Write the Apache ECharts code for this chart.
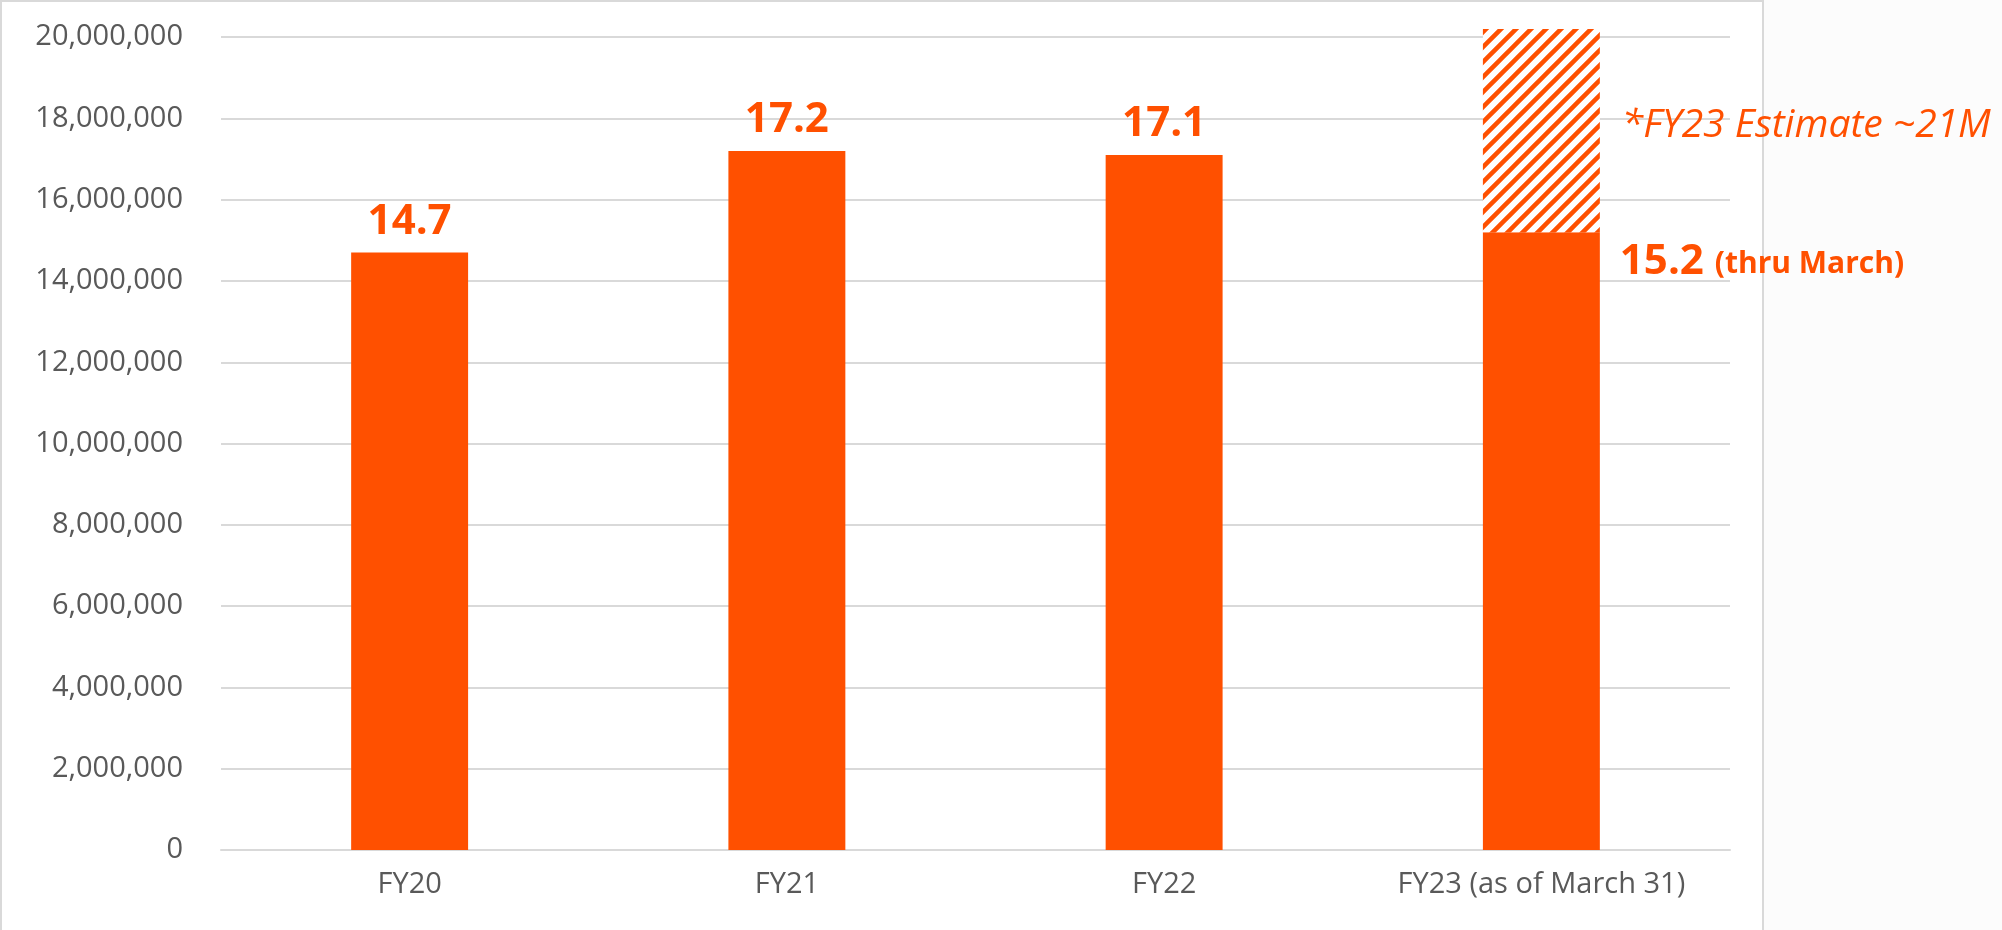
<!DOCTYPE html>
<html>
<head>
<meta charset="utf-8">
<script src="https://cdn.jsdelivr.net/npm/echarts@6/dist/echarts.min.js"></script>
<style>
  html, body { margin: 0; padding: 0; background: #fff; }
  #chart { width: 2002px; height: 930px; }
</style>
</head>
<body>
<div id="chart"></div>
<script>
const categories = ['FY20', 'FY21', 'FY22', 'FY23 (as of March 31)']
const actual = [14700000, 17200000, 17100000, 15200000]
// part of the FY23 estimate (~21M) still to come on top of the actual
const estimateRest = [null, null, null, 5800000]
const yTicks = { min: 0, max: 20200000, interval: 2000000 }

const orange = '#ff5000'
const grey = '#595959'
const lineGrey = '#d9d9d9'
const font = 'Open Sans'

function hatch() {
  const size = 15
  const c = document.createElement('canvas')
  c.width = size
  c.height = size
  const ctx = c.getContext('2d')
  ctx.fillStyle = '#fff'
  ctx.fillRect(0, 0, size, size)
  ctx.strokeStyle = orange
  ctx.lineWidth = 4.5
  ctx.beginPath()
  ctx.moveTo(-size, size * 2); ctx.lineTo(size * 2, -size)
  ctx.moveTo(-size, size); ctx.lineTo(size, -size)
  ctx.moveTo(0, size * 2); ctx.lineTo(size * 2, 0)
  ctx.stroke()
  return c
}

const chart = echarts.init(document.getElementById('chart'))

const actualData = actual.map((v, i) => {
  if (i < 3) return v
  return {
    value: v,
    label: {
      position: ['100%', 0],
      offset: [20, 30],
      align: 'left',
      verticalAlign: 'middle',
      formatter: (p) => '{a|' + (p.value / 1e6).toFixed(1) + '} {b|(thru March)}',
      rich: {
        a: { fontFamily: font, fontSize: 42, fontWeight: 'bold', color: orange },
        b: { fontFamily: font, fontSize: 30, fontWeight: 'bold', color: orange, padding: [5, 0, 0, 0] }
      }
    }
  }
})

const estimateData = estimateRest.map((v) => v == null ? v : {
  value: v,
  label: {
    show: true,
    position: ['100%', '100%'],
    offset: [22, -106],
    align: 'left',
    verticalAlign: 'middle',
    formatter: '*FY23 Estimate ~21M',
    fontFamily: font,
    fontSize: 39,
    fontStyle: 'italic',
    color: orange
  }
})

chart.setOption({
  backgroundColor: '#fff',
  animation: false,
  grid: { left: 221, right: 272, top: 29, bottom: 80 },
  graphic: [
    { type: 'rect', shape: { x: 1763, y: 0, width: 239, height: 930 }, style: { fill: '#fcfcfc' }, z: -1 },
    { type: 'rect', shape: { x: 1, y: 1, width: 1762, height: 940 }, style: { fill: 'none', stroke: lineGrey, lineWidth: 2 }, z: -1 }
  ],
  xAxis: {
    type: 'category',
    data: categories,
    axisTick: { show: false },
    axisLine: { lineStyle: { color: lineGrey, width: 2 } },
    axisLabel: { color: grey, fontFamily: font, fontSize: 29, margin: 20 }
  },
  yAxis: {
    type: 'value',
    min: yTicks.min,
    max: yTicks.max,
    interval: yTicks.interval,
    axisLine: { show: false },
    axisTick: { show: false },
    axisLabel: {
      color: grey, fontFamily: font, fontSize: 29, margin: 38, showMaxLabel: false,
      formatter: (v) => v.toLocaleString('en-US')
    },
    splitLine: { showMaxLine: false, lineStyle: { color: lineGrey, width: 2 } }
  },
  series: [
    {
      name: 'Actual',
      type: 'bar',
      stack: 'fy',
      barWidth: '31%',
      data: actualData,
      itemStyle: { color: orange },
      label: {
        show: true,
        position: 'top',
        distance: 10,
        color: orange,
        fontFamily: font,
        fontSize: 42,
        fontWeight: 'bold',
        formatter: (p) => (p.value / 1e6).toFixed(1)
      }
    },
    {
      name: 'Estimate',
      type: 'bar',
      stack: 'fy',
      barWidth: '31%',
      data: estimateData,
      itemStyle: { color: { image: hatch(), repeat: 'repeat' } }
    }
  ]
})
</script>
</body>
</html>
